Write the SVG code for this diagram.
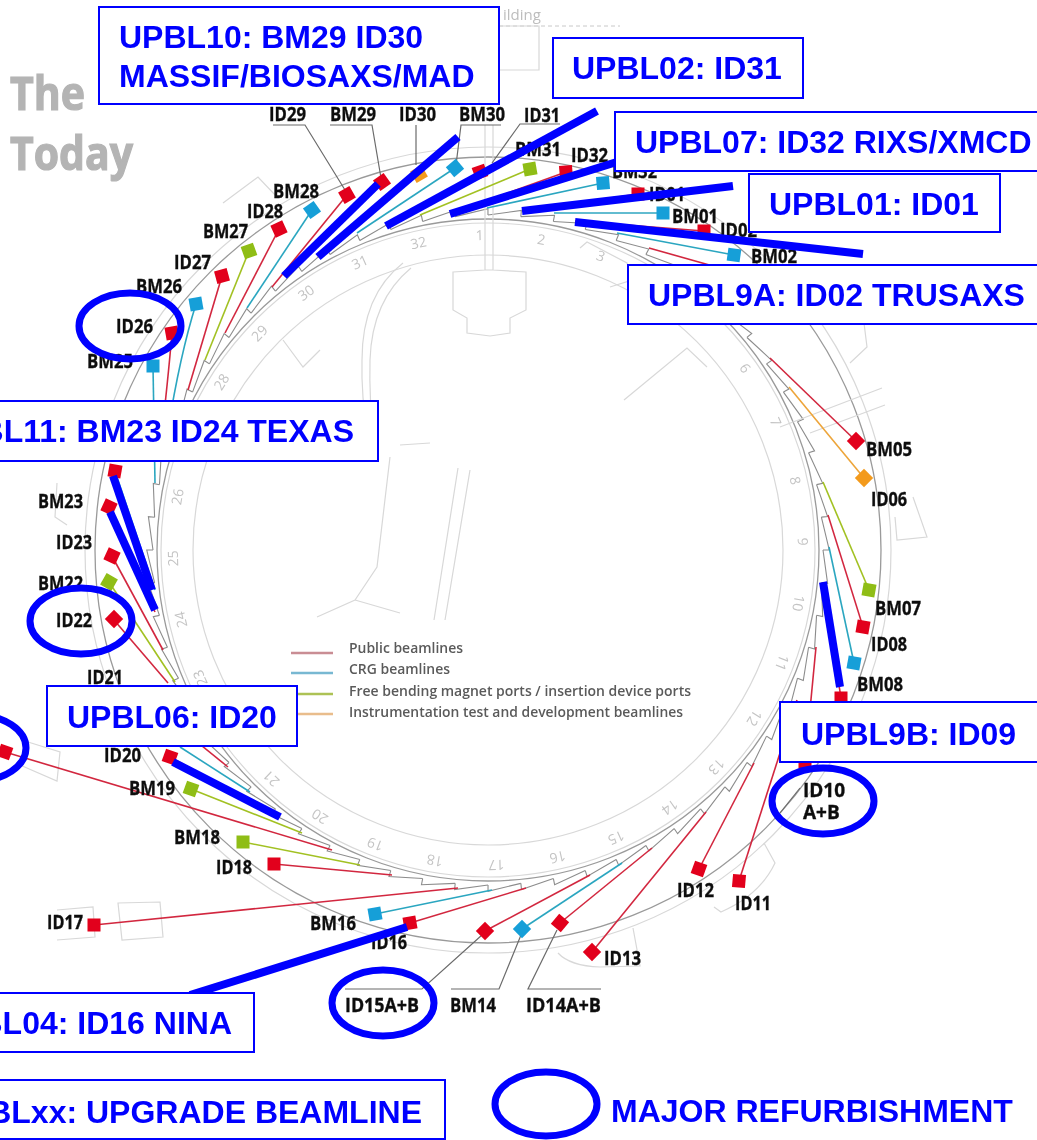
<svg xmlns="http://www.w3.org/2000/svg" xmlns:xlink="http://www.w3.org/1999/xlink" width="1037" height="1140" viewBox="0 0 1037 1140">
<style>
.f{fill:none;stroke:#d8d8d8;stroke-width:1.2}
.a{fill:none;stroke:#9a9a9a;stroke-width:1.3}
.t{fill:none;stroke:#8c8c8c;stroke-width:1.1}
.n{font:14px "Open Sans",sans-serif;fill:#c4c4c4;text-anchor:middle}
.lg{font:600 13.5px "Open Sans",sans-serif;fill:#5a5a5a}
.hd{font:bold 46px "Open Sans",sans-serif;fill:#b4b4b4;stroke:#b4b4b4;stroke-width:1.2}
.l{font:bold 19px "Open Sans",sans-serif;fill:#111;stroke:#111;stroke-width:.35}
.r{fill:#e2001a}.b{fill:#159fd8}.g{fill:#8fbd12}.o{fill:#f39a1e}
.lr,.lb,.lgn,.lo,.ld{fill:none;stroke-width:1.6}
.lr{stroke:#d2283f}.lb{stroke:#2ba6c0}.lgn{stroke:#a2c122}.lo{stroke:#eda53a}.ld{stroke:#6b6b6b;stroke-width:1.2}
.bar{stroke:#00f;stroke-width:8;fill:none}
.box{fill:#fff;stroke:#00f;stroke-width:2}
.bt{font:bold 32px "Liberation Sans",Arial,sans-serif;fill:#00f}
.el{fill:none;stroke:#00f;stroke-width:7}
</style>
<defs>
<filter id="soft" x="-5%" y="-5%" width="110%" height="110%"><feGaussianBlur stdDeviation="0.5"/></filter>
<path id="t1" class="t" d="M0,-335L33.4,-339.6L32.8,-333.4"/>
<g id="t2"><use xlink:href="#t1"/><use xlink:href="#t1" transform="rotate(5.625)"/></g>
<g id="t4"><use xlink:href="#t2"/><use xlink:href="#t2" transform="rotate(11.25)"/></g>
<g id="t8"><use xlink:href="#t4"/><use xlink:href="#t4" transform="rotate(22.5)"/></g>
<g id="t16"><use xlink:href="#t8"/><use xlink:href="#t8" transform="rotate(45)"/></g>
<g id="t32"><use xlink:href="#t16"/><use xlink:href="#t16" transform="rotate(90)"/></g>
<rect id="s" x="-6.5" y="-6.5" width="13" height="13"/>
</defs>
<rect width="1037" height="1140" fill="#fff"/>

<g id="background" filter="url(#soft)">
<text class="hd" x="10" y="110" textLength="75" lengthAdjust="spacingAndGlyphs">The</text>
<text class="hd" x="10" y="170" textLength="123" lengthAdjust="spacingAndGlyphs">Today</text>
<text x="503" y="20" font-family="Open Sans,sans-serif" font-size="15" fill="#bdbdbd">ilding</text>
<path d="M499,26H620" fill="none" stroke="#c8c8c8" stroke-dasharray="4 3"/>
<path class="f" d="M499,26H539V70H499"/>
<circle class="f" cx="488" cy="550" r="403"/>
<circle class="a" cx="488" cy="550" r="393"/>
<circle class="a" cx="488" cy="550" r="331"/>
<circle class="f" cx="488" cy="550" r="327"/>
<circle class="f" cx="488" cy="550" r="295"/>
<g transform="translate(488,550)"><use xlink:href="#t32"/><use xlink:href="#t32" transform="rotate(180)"/></g>
<g class="n">
<text class="n" x="488" y="240" transform="rotate(-1.5 488 550)">1</text>
<text class="n" x="488" y="240" transform="rotate(9.75 488 550)">2</text>
<text class="n" x="488" y="240" transform="rotate(21 488 550)">3</text>
<text class="n" x="488" y="240" transform="rotate(54.75 488 550)">6</text>
<text class="n" x="488" y="240" transform="rotate(66 488 550)">7</text>
<text class="n" x="488" y="240" transform="rotate(77.25 488 550)">8</text>
<text class="n" x="488" y="240" transform="rotate(88.5 488 550)">9</text>
<text class="n" x="488" y="240" transform="rotate(99.75 488 550)">10</text>
<text class="n" x="488" y="240" transform="rotate(111 488 550)">11</text>
<text class="n" x="488" y="240" transform="rotate(122.25 488 550)">12</text>
<text class="n" x="488" y="240" transform="rotate(133.5 488 550)">13</text>
<text class="n" x="488" y="240" transform="rotate(144.75 488 550)">14</text>
<text class="n" x="488" y="240" transform="rotate(156 488 550)">15</text>
<text class="n" x="488" y="240" transform="rotate(167.25 488 550)">16</text>
<text class="n" x="488" y="240" transform="rotate(178.5 488 550)">17</text>
<text class="n" x="488" y="240" transform="rotate(189.75 488 550)">18</text>
<text class="n" x="488" y="240" transform="rotate(201 488 550)">19</text>
<text class="n" x="488" y="240" transform="rotate(212.25 488 550)">20</text>
<text class="n" x="488" y="240" transform="rotate(223.5 488 550)">21</text>
<text class="n" x="488" y="240" transform="rotate(246 488 550)">23</text>
<text class="n" x="488" y="240" transform="rotate(257.25 488 550)">24</text>
<text class="n" x="488" y="240" transform="rotate(268.5 488 550)">25</text>
<text class="n" x="488" y="240" transform="rotate(279.75 488 550)">26</text>
<text class="n" x="488" y="240" transform="rotate(302.25 488 550)">28</text>
<text class="n" x="488" y="240" transform="rotate(313.5 488 550)">29</text>
<text class="n" x="488" y="240" transform="rotate(324.75 488 550)">30</text>
<text class="n" x="488" y="240" transform="rotate(336 488 550)">31</text>
<text class="n" x="488" y="240" transform="rotate(347.25 488 550)">32</text>
</g>
<path class="f" d="M485,125V270M493,125V270M453,272L485,270H493L526,272V310L510,318V333L490,336L467,333V318L453,310Z"/>
<path class="f" d="M403,263Q362,295 362,360Q361,395 368,440M411,268Q372,300 370,360Q369,400 374,440"/>
<path class="f" d="M390,457L377,567L355,600L317,617M355,600L400,613M400,445L430,443M470,470L445,620M458,468L434,620"/>
<path class="f" d="M118,903L160,902L163,937L122,940ZM57,940L95,937L93,907L57,910M28,742L60,752L57,781L20,765"/>
<path class="f" d="M558,953Q570,966 600,967L640,966L633,928M714,907L721,912Q760,895 775,863L764,843"/>
<path class="f" d="M913,497L927,537L897,540L895,517M57,483L55,517L67,525M780,427L882,388M810,433L885,405"/>
<path class="f" d="M864,323L867,347L850,363M624,400L687,348L707,367M580,248L587,242L627,263L632,280L610,287"/>
<path class="f" d="M283,340L303,367L320,350M223,203L258,177L277,197"/>
<g id="legend">
<path d="M291,653H333" stroke="#c98d94" stroke-width="2.4"/>
<path d="M291,673H333" stroke="#78b8d2" stroke-width="2.4"/>
<path d="M291,694H333" stroke="#adc255" stroke-width="2.4"/>
<path d="M291,714H333" stroke="#e9bd8c" stroke-width="2.4"/>
<text class="lg" x="349" y="653" textLength="114" lengthAdjust="spacingAndGlyphs">Public beamlines</text>
<text class="lg" x="349" y="674" textLength="101" lengthAdjust="spacingAndGlyphs">CRG beamlines</text>
<text class="lg" x="349" y="696" textLength="342" lengthAdjust="spacingAndGlyphs">Free bending magnet ports / insertion device ports</text>
<text class="lg" x="349" y="717" textLength="334" lengthAdjust="spacingAndGlyphs">Instrumentation test and development beamlines</text>
</g>
</g>

<g id="connectors" filter="url(#soft)">
<path class="lb" d="M153,366Q154,430 155,483"/>
<path class="lr" d="M172,333Q168,380 160,450"/>
<path class="lb" d="M196,304Q180,355 168,430"/>
<path class="lr" d="M222,276L188,390"/>
<path class="lgn" d="M249,251L205,360"/>
<path class="lr" d="M279,229L225,333"/>
<path class="lb" d="M312,210L247,308"/>
<path class="lr" d="M347,195L272,287"/>
<path class="lr" d="M382,182L284,276"/>
<path class="lo" d="M419,174L318,257"/>
<path class="lb" d="M455,168L357,233"/>
<path class="lr" d="M480,172L386,226"/>
<path class="lgn" d="M530,169L420,215"/>
<path class="lr" d="M566,172L450,214"/>
<path class="lb" d="M603,183L487,208"/>
<path class="lr" d="M638,194L522,211"/>
<path class="lb" d="M663,213H554"/>
<path class="lr" d="M704,231L575,221"/>
<path class="lb" d="M734,255L617,233"/>
<path class="lr" d="M649,248L720,268"/>
<path class="lr" d="M856,441L770,358"/>
<path class="lo" d="M864,478L789,387"/>
<path class="lgn" d="M869,590L823,482"/>
<path class="lr" d="M863,627L828,515"/>
<path class="lb" d="M854,663L829,547"/>
<path class="lr" d="M841,698L823,582"/>
<path class="lr" d="M805,762L816,647"/>
<path class="lr" d="M739,881L797,700"/>
<path class="lr" d="M699,869L754,763"/>
<path class="lr" d="M592,952L706,812"/>
<path class="lr" d="M560,923L652,848"/>
<path class="lb" d="M522,929L622,863"/>
<path class="lr" d="M485,931L590,875"/>
<path class="lr" d="M410,923L526,888"/>
<path class="lb" d="M375,914L492,890"/>
<path class="lr" d="M94,925L458,888"/>
<path class="lr" d="M274,864L392,875"/>
<path class="lgn" d="M243,842L360,865"/>
<path class="lr" d="M5,752L332,850"/>
<path class="lgn" d="M191,789L302,833"/>
<path class="lr" d="M170,757L280,817"/>
<path class="lb" d="M180,747L250,792"/>
<path class="lr" d="M133,690L228,767"/>
<path class="lr" d="M114,620L168,683"/>
<path class="lgn" d="M109,582L175,682"/>
<path class="lr" d="M112,556L163,650"/>
<path class="lr" d="M109,507L155,612"/>
<path class="lb" d="M115,471L155,590"/>
<path class="ld" d="M273,125H305L345,190"/>
<path class="ld" d="M330,125H372L381,178"/>
<path class="ld" d="M416,125V165"/>
<path class="ld" d="M501,125H461L456,165"/>
<path class="ld" d="M560,124H520L492,163"/>
<path class="ld" d="M345,989H422L482,935"/>
<path class="ld" d="M451,989H499L521,935"/>
<path class="ld" d="M601,989H528L557,930"/>
<path class="ld" d="M800,788L780,813"/>
</g>

<g id="nodes" filter="url(#soft)">
<g id="n-BM25"><use xlink:href="#s" class="b" transform="translate(153,366)"/><text class="l" x="87" y="368" textLength="46" lengthAdjust="spacingAndGlyphs">BM25</text></g>
<g id="n-ID26"><use xlink:href="#s" class="r" transform="translate(172,333) rotate(-10)"/><text class="l" x="116" y="333" textLength="37" lengthAdjust="spacingAndGlyphs">ID26</text></g>
<g id="n-BM26"><use xlink:href="#s" class="b" transform="translate(196,304) rotate(-10)"/><text class="l" x="136" y="293" textLength="46" lengthAdjust="spacingAndGlyphs">BM26</text></g>
<g id="n-ID27"><use xlink:href="#s" class="r" transform="translate(222,276) rotate(-15)"/><text class="l" x="174" y="269" textLength="37" lengthAdjust="spacingAndGlyphs">ID27</text></g>
<g id="n-BM27"><use xlink:href="#s" class="g" transform="translate(249,251) rotate(-20)"/><text class="l" x="203" y="238" textLength="45" lengthAdjust="spacingAndGlyphs">BM27</text></g>
<g id="n-ID28"><use xlink:href="#s" class="r" transform="translate(279,229) rotate(-25)"/><text class="l" x="247" y="218" textLength="36" lengthAdjust="spacingAndGlyphs">ID28</text></g>
<g id="n-BM28"><use xlink:href="#s" class="b" transform="translate(312,210) rotate(-35)"/><text class="l" x="273" y="198" textLength="46" lengthAdjust="spacingAndGlyphs">BM28</text></g>
<g id="n-ID29"><use xlink:href="#s" class="r" transform="translate(347,195) rotate(-30)"/><text class="l" x="269" y="121" textLength="37" lengthAdjust="spacingAndGlyphs">ID29</text></g>
<g id="n-BM29"><use xlink:href="#s" class="r" transform="translate(382,182) rotate(-35)"/><text class="l" x="330" y="121" textLength="46" lengthAdjust="spacingAndGlyphs">BM29</text></g>
<g id="n-ID30"><use xlink:href="#s" class="o" transform="translate(419,174) rotate(-30)"/><text class="l" x="399" y="121" textLength="37" lengthAdjust="spacingAndGlyphs">ID30</text></g>
<g id="n-BM30"><use xlink:href="#s" class="b" transform="translate(455,168) rotate(-40)"/><text class="l" x="459" y="121" textLength="46" lengthAdjust="spacingAndGlyphs">BM30</text></g>
<g id="n-ID31"><use xlink:href="#s" class="r" transform="translate(480,172) rotate(-20)"/><text class="l" x="524" y="122" textLength="36" lengthAdjust="spacingAndGlyphs">ID31</text></g>
<g id="n-BM31"><use xlink:href="#s" class="g" transform="translate(530,169) rotate(-10)"/><text class="l" x="515" y="156" textLength="46" lengthAdjust="spacingAndGlyphs">BM31</text></g>
<g id="n-ID32"><use xlink:href="#s" class="r" transform="translate(566,172) rotate(-5)"/><text class="l" x="571" y="162" textLength="37" lengthAdjust="spacingAndGlyphs">ID32</text></g>
<g id="n-BM32"><use xlink:href="#s" class="b" transform="translate(603,183) rotate(-5)"/><text class="l" x="612" y="178" textLength="45" lengthAdjust="spacingAndGlyphs">BM32</text></g>
<g id="n-ID01"><use xlink:href="#s" class="r" transform="translate(638,194)"/><text class="l" x="649" y="201" textLength="36" lengthAdjust="spacingAndGlyphs">ID01</text></g>
<g id="n-BM01"><use xlink:href="#s" class="b" transform="translate(663,213)"/><text class="l" x="672" y="223" textLength="46" lengthAdjust="spacingAndGlyphs">BM01</text></g>
<g id="n-ID02"><use xlink:href="#s" class="r" transform="translate(704,231)"/><text class="l" x="720" y="237" textLength="37" lengthAdjust="spacingAndGlyphs">ID02</text></g>
<g id="n-BM02"><use xlink:href="#s" class="b" transform="translate(734,255) rotate(8)"/><text class="l" x="751" y="263" textLength="46" lengthAdjust="spacingAndGlyphs">BM02</text></g>
<g id="n-BM05"><use xlink:href="#s" class="r" transform="translate(856,441) rotate(45)"/><text class="l" x="866" y="456" textLength="46" lengthAdjust="spacingAndGlyphs">BM05</text></g>
<g id="n-ID06"><use xlink:href="#s" class="o" transform="translate(864,478) rotate(45)"/><text class="l" x="871" y="506" textLength="36" lengthAdjust="spacingAndGlyphs">ID06</text></g>
<g id="n-BM07"><use xlink:href="#s" class="g" transform="translate(869,590) rotate(10)"/><text class="l" x="875" y="615" textLength="46" lengthAdjust="spacingAndGlyphs">BM07</text></g>
<g id="n-ID08"><use xlink:href="#s" class="r" transform="translate(863,627) rotate(10)"/><text class="l" x="871" y="651" textLength="36" lengthAdjust="spacingAndGlyphs">ID08</text></g>
<g id="n-BM08"><use xlink:href="#s" class="b" transform="translate(854,663) rotate(10)"/><text class="l" x="857" y="691" textLength="46" lengthAdjust="spacingAndGlyphs">BM08</text></g>
<g id="n-ID09"><use xlink:href="#s" class="r" transform="translate(841,698)"/></g>
<g id="n-ID10"><use xlink:href="#s" class="r" transform="translate(805,762)"/><text class="l"><tspan x="803" y="797">ID10</tspan><tspan x="803" y="819">A+B</tspan></text></g>
<g id="n-ID11"><use xlink:href="#s" class="r" transform="translate(739,881) rotate(5)"/><text class="l" x="735" y="910" textLength="36" lengthAdjust="spacingAndGlyphs">ID11</text></g>
<g id="n-ID12"><use xlink:href="#s" class="r" transform="translate(699,869) rotate(20)"/><text class="l" x="677" y="897" textLength="37" lengthAdjust="spacingAndGlyphs">ID12</text></g>
<g id="n-ID13"><use xlink:href="#s" class="r" transform="translate(592,952) rotate(45)"/><text class="l" x="604" y="965" textLength="37" lengthAdjust="spacingAndGlyphs">ID13</text></g>
<g id="n-ID14"><use xlink:href="#s" class="r" transform="translate(560,923) rotate(40)"/><text class="l" x="526" y="1012" textLength="75" lengthAdjust="spacingAndGlyphs">ID14A+B</text></g>
<g id="n-BM14"><use xlink:href="#s" class="b" transform="translate(522,929) rotate(45)"/><text class="l" x="450" y="1012" textLength="46" lengthAdjust="spacingAndGlyphs">BM14</text></g>
<g id="n-ID15"><use xlink:href="#s" class="r" transform="translate(485,931) rotate(45)"/><text class="l" x="345" y="1012" textLength="74" lengthAdjust="spacingAndGlyphs">ID15A+B</text></g>
<g id="n-ID16"><use xlink:href="#s" class="r" transform="translate(410,923) rotate(-10)"/><text class="l" x="371" y="949" textLength="36" lengthAdjust="spacingAndGlyphs">ID16</text></g>
<g id="n-BM16"><use xlink:href="#s" class="b" transform="translate(375,914) rotate(-10)"/><text class="l" x="310" y="930" textLength="46" lengthAdjust="spacingAndGlyphs">BM16</text></g>
<g id="n-ID17"><use xlink:href="#s" class="r" transform="translate(94,925)"/><text class="l" x="47" y="929" textLength="36" lengthAdjust="spacingAndGlyphs">ID17</text></g>
<g id="n-ID18"><use xlink:href="#s" class="r" transform="translate(274,864)"/><text class="l" x="216" y="874" textLength="36" lengthAdjust="spacingAndGlyphs">ID18</text></g>
<g id="n-BM18"><use xlink:href="#s" class="g" transform="translate(243,842)"/><text class="l" x="174" y="844" textLength="46" lengthAdjust="spacingAndGlyphs">BM18</text></g>
<g id="n-ID19"><use xlink:href="#s" class="r" transform="translate(5,752) rotate(20)"/></g>
<g id="n-BM19"><use xlink:href="#s" class="g" transform="translate(191,789) rotate(20)"/><text class="l" x="129" y="795" textLength="46" lengthAdjust="spacingAndGlyphs">BM19</text></g>
<g id="n-ID20"><use xlink:href="#s" class="r" transform="translate(170,757) rotate(20)"/><text class="l" x="104" y="762" textLength="37" lengthAdjust="spacingAndGlyphs">ID20</text></g>
<g id="n-ID21"><text class="l" x="87" y="684" textLength="36" lengthAdjust="spacingAndGlyphs">ID21</text></g>
<g id="n-ID22"><use xlink:href="#s" class="r" transform="translate(114,619) rotate(45)"/><text class="l" x="56" y="627" textLength="36" lengthAdjust="spacingAndGlyphs">ID22</text></g>
<g id="n-BM22"><use xlink:href="#s" class="g" transform="translate(109,582) rotate(30)"/><text class="l" x="38" y="590" textLength="45" lengthAdjust="spacingAndGlyphs">BM22</text></g>
<g id="n-ID23"><use xlink:href="#s" class="r" transform="translate(112,556) rotate(25)"/><text class="l" x="56" y="549" textLength="36" lengthAdjust="spacingAndGlyphs">ID23</text></g>
<g id="n-BM23"><use xlink:href="#s" class="r" transform="translate(109,507) rotate(25)"/><text class="l" x="38" y="508" textLength="45" lengthAdjust="spacingAndGlyphs">BM23</text></g>
<g id="n-ID24"><use xlink:href="#s" class="r" transform="translate(115,471) rotate(10)"/></g>
</g>

<g id="upgrade-bars">
<path class="bar" d="M284,276L378,184"/>
<path class="bar" d="M318,257L458,137"/>
<path class="bar" d="M386,226L597,111"/>
<path class="bar" d="M450,214L620,161"/>
<path class="bar" d="M522,211L733,186"/>
<path class="bar" d="M575,222L863,254"/>
<path class="bar" d="M823,582L840,687"/>
<path class="bar" d="M113,476L152,590"/>
<path class="bar" d="M110,512L155,610"/>
<path class="bar" d="M173,762L280,817"/>
<path class="bar" d="M407,927L190,995"/>
</g>

<g id="UPBL10"><rect class="box" x="99" y="7" width="400" height="97"/><text class="bt" x="119" y="48">UPBL10: BM29 ID30</text><text class="bt" x="119" y="87">MASSIF/BIOSAXS/MAD</text></g>
<g id="UPBL02"><rect class="box" x="553" y="38" width="250" height="60"/><text class="bt" x="572" y="79">UPBL02: ID31</text></g>
<g id="UPBL07"><rect class="box" x="615" y="112" width="430" height="59"/><text class="bt" x="635" y="153">UPBL07: ID32 RIXS/XMCD</text></g>
<g id="UPBL01"><rect class="box" x="749" y="174" width="251" height="58"/><text class="bt" x="769" y="215">UPBL01: ID01</text></g>
<g id="UPBL9A"><rect class="box" x="628" y="265" width="417" height="59"/><text class="bt" x="648" y="306">UPBL9A: ID02 TRUSAXS</text></g>
<g id="UPBL11"><rect class="box" x="-4" y="401" width="382" height="60"/><text class="bt" x="354" y="442" text-anchor="end">BL11: BM23 ID24 TEXAS</text></g>
<g id="UPBL06"><rect class="box" x="47" y="686" width="250" height="60"/><text class="bt" x="67" y="728">UPBL06: ID20</text></g>
<g id="UPBL9B"><rect class="box" x="780" y="702" width="265" height="60"/><text class="bt" x="801" y="745">UPBL9B: ID09</text></g>
<g id="UPBL04"><rect class="box" x="-4" y="993" width="258" height="59"/><text class="bt" x="232" y="1034" text-anchor="end">BL04: ID16 NINA</text></g>
<g id="UPBLxx"><rect class="box" x="-4" y="1080" width="449" height="59"/><text class="bt" x="422" y="1123" text-anchor="end">BLxx: UPGRADE BEAMLINE</text></g>

<g id="refurbishment">
<ellipse class="el" cx="130" cy="326" rx="51" ry="33"/>
<ellipse class="el" cx="81" cy="621" rx="51" ry="33"/>
<ellipse class="el" cx="-24" cy="748" rx="50" ry="33"/>
<ellipse class="el" cx="823" cy="801" rx="51" ry="33"/>
<ellipse class="el" cx="383" cy="1003" rx="51" ry="33"/>
<ellipse class="el" cx="546" cy="1104" rx="51" ry="32"/>
<text class="bt" x="611" y="1122">MAJOR REFURBISHMENT</text>
</g>
</svg>
